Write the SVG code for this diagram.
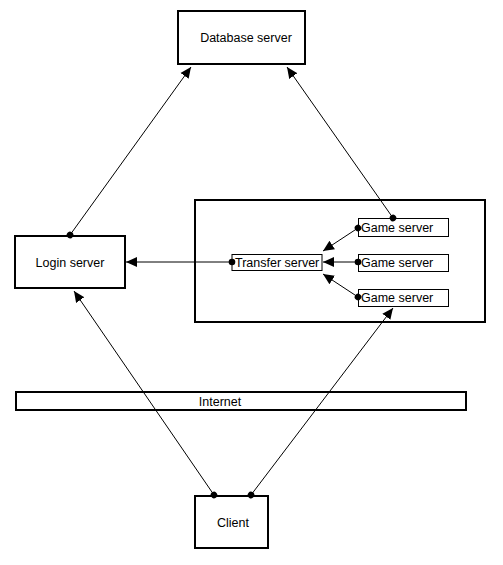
<svg xmlns="http://www.w3.org/2000/svg" width="503" height="565" viewBox="0 0 503 565">
<style>
.box{fill:#fff;stroke:#000;stroke-width:2}
.sbox{fill:#fff;stroke:#000;stroke-width:1}
.lbl{font-family:"Liberation Sans",Arial,sans-serif;font-size:12.5px;fill:#000}
.c{fill:none;stroke:#000;stroke-width:1;marker-start:url(#dot);marker-end:url(#arr)}
</style>
<defs>
<marker id="arr" markerUnits="userSpaceOnUse" markerWidth="12" markerHeight="12" viewBox="0 0 12 12" refX="11" refY="6" orient="auto">
<path d="M0,1 L11,6 L0,11 Z" fill="#000"/>
</marker>
<marker id="dot" markerUnits="userSpaceOnUse" markerWidth="8" markerHeight="8" viewBox="0 0 8 8" refX="4" refY="4" orient="auto">
<circle cx="4" cy="4" r="3.3" fill="#000"/>
</marker>
</defs>
<rect width="503" height="565" fill="#fff"/>
<g id="cluster"><rect class="box" x="195" y="200" width="290" height="122"/></g>
<g id="internet"><rect class="box" x="16" y="392" width="450" height="18"/><text class="lbl" x="220" y="406" text-anchor="middle">Internet</text></g>
<g id="db"><rect class="box" x="178" y="11" width="127" height="53"/><text class="lbl" x="246" y="42" text-anchor="middle">Database server</text></g>
<g id="login"><rect class="box" x="15" y="236" width="110" height="52"/><text class="lbl" x="70" y="267" text-anchor="middle">Login server</text></g>
<g id="client"><rect class="box" x="195" y="496" width="73" height="52"/><text class="lbl" x="233" y="527" text-anchor="middle">Client</text></g>
<g id="transfer"><rect class="sbox" x="232" y="254.5" width="90" height="16"/><text class="lbl" x="235" y="267">Transfer server</text></g>
<g id="game1"><rect class="sbox" x="358.5" y="218.5" width="90" height="18"/><text class="lbl" x="361" y="232">Game server</text></g>
<g id="game2"><rect class="sbox" x="358.5" y="254.5" width="90" height="17"/><text class="lbl" x="361" y="267">Game server</text></g>
<g id="game3"><rect class="sbox" x="358.5" y="289.5" width="90" height="17"/><text class="lbl" x="361" y="302">Game server</text></g>
<g id="connectors">
<path class="c" d="M70,235 L191,67"/>
<path class="c" d="M393,218 L287,67"/>
<path class="c" d="M232,262 L126,262"/>
<path class="c" d="M358,228 L323,251"/>
<path class="c" d="M358,262 L323,262"/>
<path class="c" d="M358,297 L323,274"/>
<path class="c" d="M214,495 L74,291"/>
<path class="c" d="M251,495 L393,308"/>
</g>
</svg>
